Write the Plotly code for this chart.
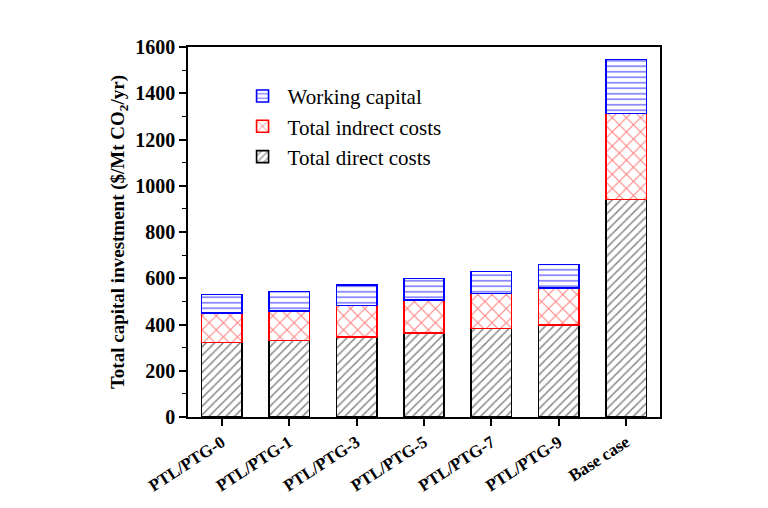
import plotly.graph_objects as go

categories = ["PTL/PTG-0", "PTL/PTG-1", "PTL/PTG-3", "PTL/PTG-5", "PTL/PTG-7", "PTL/PTG-9", "Base case"]
direct_costs = [322, 330, 345, 362, 382, 398, 940]
indirect_costs = [128, 128, 137, 144, 152, 160, 372]
working_capital = [79, 84, 88, 93, 95, 101, 234]
y_ticks = [0, 200, 400, 600, 800, 1000, 1200, 1400, 1600]

FONT = "Liberation Serif, Times New Roman, serif"

fig = go.Figure()
fig.add_trace(go.Bar(
    x=categories, y=direct_costs, name="Total direct costs", width=0.6,
    marker=dict(color="white", line=dict(color="black", width=1.6),
                pattern=dict(shape="/", fgcolor="#111111", bgcolor="white", size=6, solidity=0.25)),
))
fig.add_trace(go.Bar(
    x=categories, y=indirect_costs, name="Total indrect costs", width=0.6,
    marker=dict(color="white", line=dict(color="red", width=1.6),
                pattern=dict(shape="x", fgcolor="red", bgcolor="white", size=10, solidity=0.2)),
))
fig.add_trace(go.Bar(
    x=categories, y=working_capital, name="Working capital", width=0.6,
    marker=dict(color="white", line=dict(color="blue", width=1.6),
                pattern=dict(shape="-", fgcolor="blue", bgcolor="white", size=5.5, solidity=0.3)),
))

fig.update_layout(
    barmode="stack",
    width=768, height=508,
    margin=dict(l=180, r=116, t=39, b=99),
    paper_bgcolor="white", plot_bgcolor="white",
    font=dict(family=FONT, color="black"),
    showlegend=True,
    legend=dict(
        x=0.105, y=0.922, xanchor="left", yanchor="top",
        traceorder="reversed",
        font=dict(family=FONT, size=21, color="black"),
        bgcolor="rgba(0,0,0,0)", itemwidth=40, tracegroupgap=0,
    ),
    xaxis=dict(
        range=[-0.5, 6.5],
        showline=True, linecolor="black", linewidth=1.5, mirror=True,
        ticks="outside", ticklen=7, tickwidth=1.5, tickcolor="black",
        tickangle=-33,
        tickfont=dict(family=FONT, size=17, color="black", weight="bold"),
        showgrid=False, zeroline=False,
    ),
    yaxis=dict(
        range=[0, 1600],
        tickvals=y_ticks,
        showline=True, linecolor="black", linewidth=1.5, mirror=True,
        ticks="outside", ticklen=7, tickwidth=1.5, tickcolor="black",
        minor=dict(ticks="outside", ticklen=4, tickwidth=1.2, tickcolor="black", dtick=100, showgrid=False),
        tickfont=dict(family=FONT, size=20, color="black", weight="bold"),
        title=dict(text="Total capital investment ($/Mt CO<sub>2</sub>/yr)",
                   font=dict(family=FONT, size=19, color="black", weight="bold"), standoff=6),
        showgrid=False, zeroline=False,
    ),
)

fig.write_html("out.html")
